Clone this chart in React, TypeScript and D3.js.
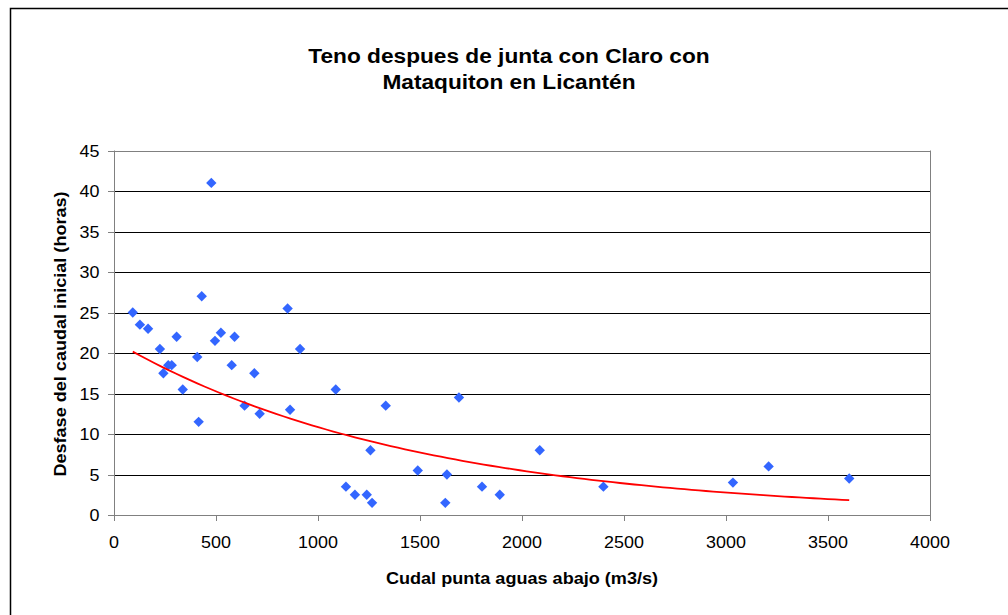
import React from "react";
import * as d3 from "d3";

const caudal: number[] = [92, 127, 167, 225, 242, 266, 283, 307, 337, 408, 415, 430, 477, 495, 524, 577, 591, 640, 688, 714, 851, 863, 912, 1087, 1137, 1181, 1239, 1257, 1265, 1332, 1489, 1624, 1632, 1691, 1804, 1891, 2087, 2399, 3034, 3209, 3604];
const desfase: number[] = [25, 23.5, 23, 20.5, 17.5, 18.5, 18.5, 22, 15.5, 19.5, 11.5, 27, 41, 21.5, 22.5, 18.5, 22, 13.5, 17.5, 12.5, 25.5, 13, 20.5, 15.5, 3.5, 2.5, 2.5, 8, 1.5, 13.5, 5.5, 1.5, 5, 14.5, 3.5, 2.5, 8, 3.5, 4, 6, 4.5];
const xTicks: number[] = [0, 500, 1000, 1500, 2000, 2500, 3000, 3500, 4000];
const yTicks: number[] = [0, 5, 10, 15, 20, 25, 30, 35, 40, 45];
const titleLines: string[] = ["Teno despues de junta con Claro con", "Mataquiton en Licantén"];
const xLabel = "Cudal punta aguas abajo (m3/s)";
const yLabel = "Desfase del caudal inicial (horas)";

const W = 1008, H = 615;
const L = 114, R = 930, T = 150.5, B = 515;
const FONT = "'Liberation Sans', Arial, Helvetica, sans-serif";

function Txt(props: { x: number; y: number; sx: number; rot?: number; anchor: string; size: number; bold?: boolean; children: React.ReactNode }) {
  const { x, y, sx, rot, anchor, size, bold, children } = props;
  return (
    <text
      transform={`translate(${x},${y})${rot ? ` rotate(${rot})` : ""} scale(${sx},1)`}
      textAnchor={anchor}
      fontSize={size}
      fontWeight={bold ? "bold" : "normal"}
      fill="#000"
    >
      {children}
    </text>
  );
}

export default function App() {
  const x = d3.scaleLinear().domain([0, 4000]).range([L, R]);
  const y = d3.scaleLinear().domain([0, 45]).range([B, T]);

  // Exponential trendline (least squares on ln y), as spreadsheet trendline
  const n = caudal.length;
  const ly = desfase.map((v) => Math.log(v));
  const mx = d3.mean(caudal)!;
  const my = d3.mean(ly)!;
  let sxy = 0, sxx = 0;
  for (let i = 0; i < n; i++) {
    sxy += (caudal[i] - mx) * (ly[i] - my);
    sxx += (caudal[i] - mx) * (caudal[i] - mx);
  }
  const b = sxy / sxx;
  const a = Math.exp(my - b * mx);
  const x0 = d3.min(caudal)!, x1 = d3.max(caudal)!;
  const trendPts: [number, number][] = d3.range(0, 101).map((i) => {
    const xv = x0 + ((x1 - x0) * i) / 100;
    return [xv, a * Math.exp(b * xv)];
  });
  const line = d3.line<[number, number]>().x((d) => x(d[0])).y((d) => y(d[1]));

  const diamond = (cx: number, cy: number, r: number) =>
    `M${cx},${cy - r}L${cx + r},${cy}L${cx},${cy + r}L${cx - r},${cy}Z`;

  const crisp = (v: number) => Math.round(v) + 0.5;

  return (
    <svg width={W} height={H} style={{ position: "absolute", left: 0, top: 0, background: "#fff" }} fontFamily={FONT}>
      <rect x={10.5} y={8.5} width={W + 20} height={H + 20} fill="#fff" stroke="#000" strokeWidth={1.5} />
      {titleLines.map((t, i) => (
        <Txt key={i} x={509} y={62.5 + i * 26} sx={1.08} anchor="middle" size={21} bold>
          {t}
        </Txt>
      ))}
      {/* gridlines */}
      {yTicks.filter((t) => t > 0 && t < 45).map((t) => (
        <line key={t} x1={L} x2={R} y1={crisp(y(t))} y2={crisp(y(t))} stroke="#000" strokeWidth={1} />
      ))}
      {/* plot frame */}
      <line x1={L} x2={R} y1={crisp(T)} y2={crisp(T)} stroke="#808080" strokeWidth={1} />
      <line x1={crisp(R)} x2={crisp(R)} y1={T} y2={B} stroke="#808080" strokeWidth={1} />
      {/* axes */}
      <line x1={crisp(L)} x2={crisp(L)} y1={T} y2={B + 0.5} stroke="#808080" strokeWidth={1} />
      <line x1={L} x2={R + 0.5} y1={crisp(B)} y2={crisp(B)} stroke="#808080" strokeWidth={1} />
      {yTicks.map((t) => (
        <g key={t}>
          <line x1={L - 6} x2={L} y1={crisp(y(t))} y2={crisp(y(t))} stroke="#808080" strokeWidth={1} />
          <Txt x={99.5} y={y(t) + 6} sx={1.12} anchor="end" size={16}>{t}</Txt>
        </g>
      ))}
      {xTicks.map((t) => (
        <g key={t}>
          <line x1={crisp(x(t))} x2={crisp(x(t))} y1={B} y2={B + 6} stroke="#808080" strokeWidth={1} />
          <Txt x={x(t)} y={547.5} sx={1.12} anchor="middle" size={16}>{t}</Txt>
        </g>
      ))}
      <Txt x={522} y={583.5} sx={1.13} anchor="middle" size={16} bold>{xLabel}</Txt>
      <Txt x={66} y={334} rot={-90} sx={1.13} anchor="middle" size={16} bold>{yLabel}</Txt>
      {/* points */}
      {caudal.map((c, i) => (
        <path key={i} d={diamond(x(c), y(desfase[i]), 5.2)} fill="#3366FF" />
      ))}
      {/* trendline */}
      <path d={line(trendPts) || ""} fill="none" stroke="#FF0000" strokeWidth={1.8} />
    </svg>
  );
}
